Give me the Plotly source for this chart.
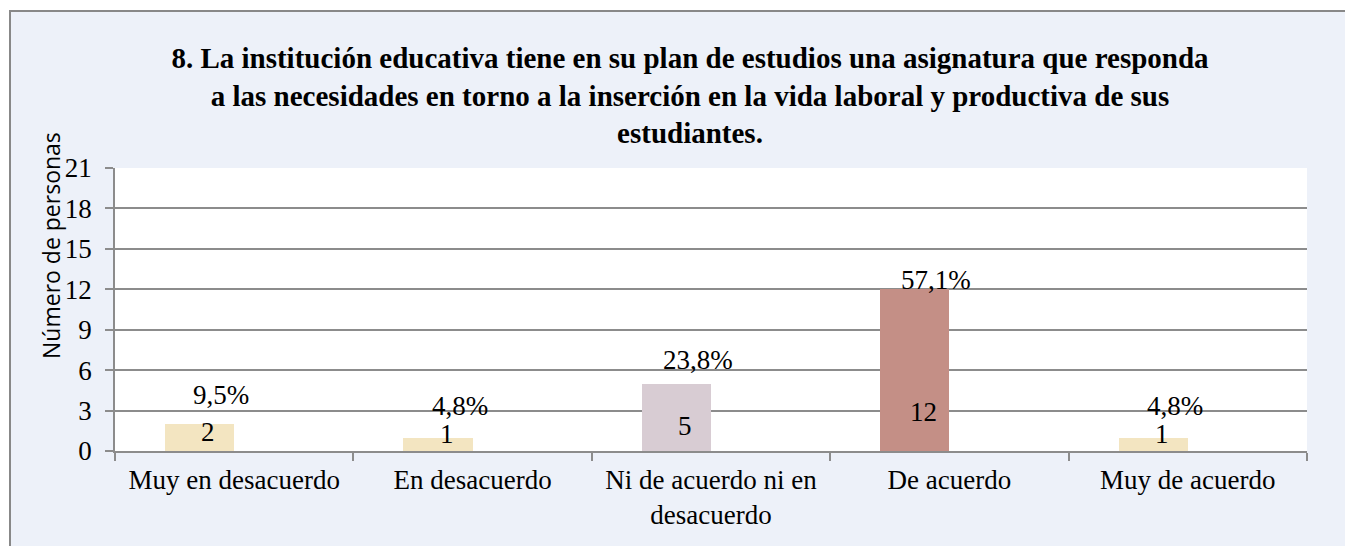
import plotly.graph_objects as go

categories = ["Muy en desacuerdo", "En desacuerdo", "Ni de acuerdo ni en<br>desacuerdo", "De acuerdo", "Muy de acuerdo"]
counts = [2, 1, 5, 12, 1]
percents = [9.5, 4.8, 23.8, 57.1, 4.8]
bar_colors = ["#F3E5C1", "#F3E5C1", "#D8CCD3", "#C48F86", "#F3E5C1"]
y_ticks = [0, 3, 6, 9, 12, 15, 18, 21]

title_text = ("<b>8. La institución educativa tiene en su plan de estudios una asignatura que responda<br>"
              "a las necesidades en torno a la inserción en la vida laboral y productiva de sus<br>"
              "estudiantes.</b>")

serif = "Liberation Serif"
grid_c = "#8C8C8C"

W, H = 1345, 538
ML, MR, MT, MB = 107, 46, 160, 95
PW, PH = W - ML - MR, H - MT - MB

fig = go.Figure()
fig.add_trace(go.Bar(
    x=categories, y=counts,
    width=0.29, offset=-0.29,
    marker=dict(color=bar_colors, line=dict(width=0)),
    hoverinfo="x+y", showlegend=False,
))

annotations = []
for c, p in zip(categories, percents):
    annotations.append(dict(
        x=c, y=p, xref="x", yref="y2", xshift=-13,
        text=f"{p:.1f}%".replace(".", ","), showarrow=False,
        font=dict(family=serif, size=27, color="black"),
        xanchor="center", yanchor="middle",
    ))
for c, n in zip(categories, counts):
    annotations.append(dict(
        x=c, y=n, xref="x", yref="y3", xshift=-26,
        text=str(n), showarrow=False,
        font=dict(family=serif, size=27, color="black"),
        xanchor="center", yanchor="middle",
    ))
annotations.append(dict(
    x=(43 - ML) / PW, y=(443 - 238) / PH, xref="paper", yref="paper",
    text="Número de personas", textangle=-90, showarrow=False,
    font=dict(family="Open Sans", size=23, color="black"),
    xanchor="center", yanchor="middle",
))

shapes = [
    dict(type="rect", xref="paper", yref="paper", layer="below",
         x0=(2 - ML) / PW, x1=1.2, y0=-0.6, y1=(443 - 3) / PH,
         fillcolor="#EDF1F9", line=dict(color="#888888", width=2)),
    dict(type="rect", xref="paper", yref="paper", layer="below",
         x0=0, x1=1, y0=0, y1=1, fillcolor="white", line=dict(width=0)),
]

fig.update_layout(
    width=W, height=H,
    margin=dict(l=ML, r=MR, t=MT, b=MB),
    paper_bgcolor="white", plot_bgcolor="white",
    title=dict(text=title_text, x=682 / W, xanchor="center",
               y=1 - 60 / H, yanchor="top",
               font=dict(family=serif, size=29, color="black")),
    xaxis=dict(
        tickfont=dict(family=serif, size=27, color="black"),
        showgrid=False, showline=True, linecolor=grid_c, linewidth=1.5,
        ticks="outside", tickson="boundaries", ticklen=8, tickcolor=grid_c, tickwidth=1.5,
        ticklabelstandoff=4,
    ),
    yaxis=dict(
        range=[0, 21], tickvals=y_ticks,
        tickfont=dict(family=serif, size=27, color="black"),
        showgrid=True, gridcolor=grid_c, gridwidth=1.5,
        showline=True, linecolor=grid_c, linewidth=1.5,
        ticks="outside", ticklen=8, tickcolor=grid_c, tickwidth=1.5,
        ticklabelstandoff=8,
        zeroline=False,
    ),
    yaxis2=dict(range=[-13.9, 103.5], overlaying="y", visible=False),
    yaxis3=dict(range=[-7.5, 134], overlaying="y", visible=False),
    annotations=annotations,
    shapes=shapes,
    bargap=0,
)

fig.write_html("out.html")
